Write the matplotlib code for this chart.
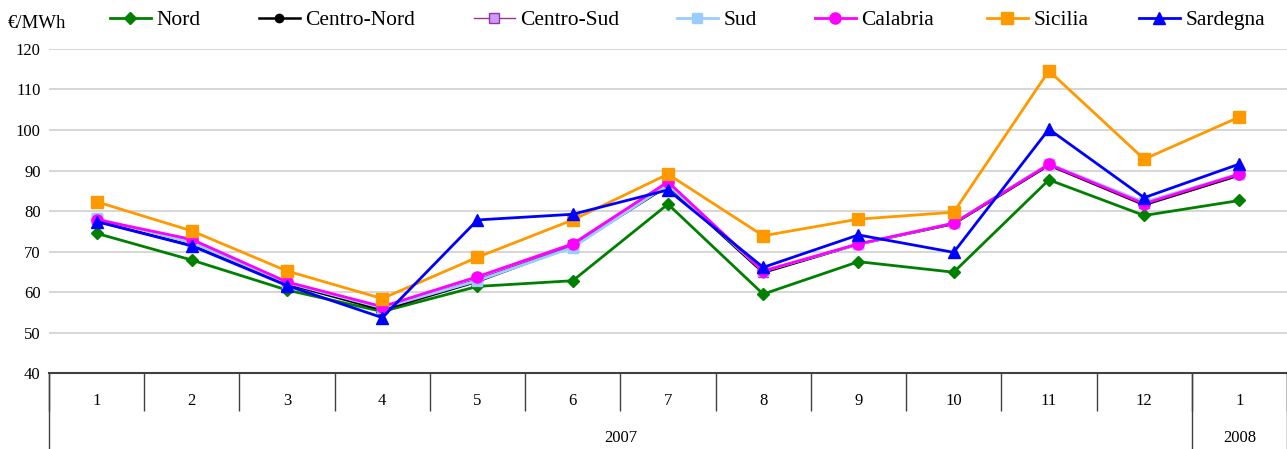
import matplotlib.pyplot as plt

plt.rcParams['font.family'] = ['Liberation Serif', 'DejaVu Serif']

months = ["1", "2", "3", "4", "5", "6", "7", "8", "9", "10", "11", "12", "1"]
years = ["2007", "2008"]

nord = [74.5, 67.9, 60.5, 55.2, 61.4, 62.8, 81.7, 59.5, 67.5, 64.9, 87.7, 78.9, 82.6]
centro_nord = [77.5, 71.5, 62.0, 55.6, 62.6, 71.3, 86.2, 64.8, 71.8, 76.8, 91.3, 81.5, 88.8]
centro_sud = [78.0, 72.5, 62.3, 56.1, 63.2, 71.5, 86.7, 65.0, 71.9, 77.0, 91.6, 82.0, 89.1]
sud = [78.2, 72.2, 62.3, 56.1, 62.8, 71.0, 86.5, 65.2, 71.8, 77.0, 91.7, 82.2, 89.2]
calabria = [77.9, 73.0, 62.5, 56.4, 63.8, 71.9, 87.2, 65.2, 71.9, 77.0, 91.5, 81.8, 89.1]
sicilia = [82.3, 75.1, 65.2, 58.4, 68.6, 77.8, 89.1, 73.9, 78.0, 79.7, 114.6, 92.8, 103.2]
sardegna = [77.4, 71.4, 61.6, 53.7, 77.8, 79.2, 85.2, 66.1, 74.1, 69.8, 100.2, 83.3, 91.6]

x = list(range(len(months)))

fig = plt.figure(figsize=(12.87, 4.49), dpi=100)
ax = fig.add_axes([0.038, 0.169, 0.962, 0.722])

lines = []
lines += ax.plot(x, nord, color="#008000", lw=2, marker="D", ms=6.5, label="Nord")
lines += ax.plot(x, centro_nord, color="black", lw=1.8, marker="o", ms=6, label="Centro-Nord")
lines += ax.plot(x, centro_sud, color="#993399", lw=1, marker="s", ms=7, mfc="#cc99ff",
                 mec="#993399", label="Centro-Sud")
lines += ax.plot(x, sud, color="#99ccff", lw=2, marker="s", ms=7, label="Sud")
lines += ax.plot(x, calabria, color="#ff00ff", lw=2, marker="o", ms=8, label="Calabria")
lines += ax.plot(x, sicilia, color="#ff9900", lw=2, marker="s", ms=8, label="Sicilia")
lines += ax.plot(x, sardegna, color="#0000ff", lw=2, marker="^", ms=9, label="Sardegna")

ax.set_xlim(-0.5, 12.5)
ax.set_ylim(40, 120)
ax.set_yticks(range(40, 121, 10))
ax.grid(axis="y", color="#d0d0d0", lw=1.2)
ax.set_axisbelow(True)
for s in ["left", "right", "top"]:
    ax.spines[s].set_visible(False)
ax.spines["bottom"].set_color("#404040")
ax.spines["bottom"].set_linewidth(1.5)
ax.tick_params(axis="y", length=0, labelsize=12, pad=6)

# month row
ax.set_xticks(x, labels=months)
ax.tick_params(axis="x", which="major", length=0, labelsize=12, pad=14)
ax.set_xticks([i - 0.5 for i in range(len(months) + 1)], minor=True)
ax.tick_params(axis="x", which="minor", length=27, width=1, color="#404040")

# year row
sec = ax.secondary_xaxis("bottom")
sec.spines["bottom"].set_visible(False)
sec.set_xticks([-0.5, 11.5, 12.5], labels=["", "", ""])
sec.tick_params(axis="x", which="major", length=55, width=1, color="#404040")
sec.set_xticks([5.5, 12], labels=years, minor=True)
sec.tick_params(axis="x", which="minor", length=0, labelsize=12, pad=41)

fig.text(0.006, 0.948, "€/MWh", fontsize=13.5, va="center")

# legend entries placed one by one, as in the original
legend_x = [110, 259, 474, 677, 815, 987, 1139]
for h, lx in zip(lines, legend_x):
    fig.legend(handles=[h], loc="center left", bbox_to_anchor=(lx / 1287, 0.955),
               frameon=False, fontsize=15.5, handlelength=1.9, handletextpad=0.25,
               borderpad=0, borderaxespad=0)

fig.savefig("out.png", dpi=100)
